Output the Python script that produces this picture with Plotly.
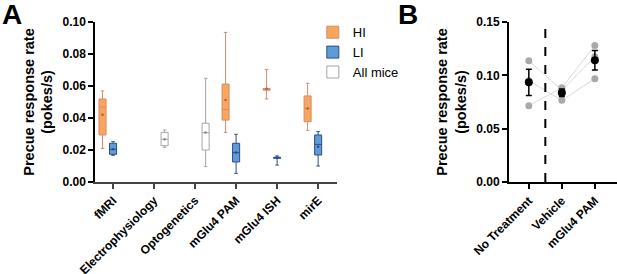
import plotly.graph_objects as go

FONT = "Liberation Sans"

# ---------------- Panel A data (box statistics) ----------------
categories_a = ["fMRI", "Electrophysiology", "Optogenetics", "mGlu4 PAM", "mGlu4 ISH", "mirE"]

hi_x = ["fMRI", "mGlu4 PAM", "mGlu4 ISH", "mirE"]
hi_low = [0.0210, 0.0310, 0.0519, 0.0323]
hi_q1 = [0.0294, 0.0387, 0.0574, 0.0377]
hi_med = [0.0469, 0.0454, 0.0578, 0.0460]
hi_q3 = [0.0519, 0.0612, 0.0584, 0.0538]
hi_high = [0.0569, 0.0935, 0.0704, 0.0617]
hi_mean = [0.0420, 0.0513, 0.0583, 0.0460]

li_x = ["fMRI", "mGlu4 PAM", "mGlu4 ISH", "mirE"]
li_low = [0.0167, 0.0054, 0.0106, 0.0100]
li_q1 = [0.0173, 0.0125, 0.0148, 0.0169]
li_med = [0.0204, 0.0183, 0.0152, 0.0235]
li_q3 = [0.0242, 0.0242, 0.0155, 0.0294]
li_high = [0.0252, 0.0298, 0.0163, 0.0315]
li_mean = [0.0204, 0.0185, 0.0152, 0.0220]

all_x = ["Electrophysiology", "Optogenetics"]
all_low = [0.0217, 0.0096]
all_q1 = [0.0227, 0.0200]
all_med = [0.0267, 0.0308]
all_q3 = [0.0310, 0.0367]
all_high = [0.0325, 0.0648]
all_mean = [0.0267, 0.0310]

yticks_a = [0.00, 0.02, 0.04, 0.06, 0.08, 0.10]

# ---------------- Panel B data ----------------
categories_b = ["No Treatment", "Vehicle", "mGlu4 PAM"]
mouse_1 = [0.1137, 0.0861, 0.1174]
mouse_2 = [0.0949, 0.0766, 0.0969]
mouse_3 = [0.0716, 0.0884, 0.1280]
mean_b = [0.0934, 0.0837, 0.1141]
sem_b = [0.0122, 0.0036, 0.0091]
yticks_b = [0.00, 0.05, 0.10, 0.15]

fig = go.Figure()

BOXGAP = 0.23

def add_box(name, xs, low, q1, med, q3, high, fill, line):
    fig.add_trace(go.Box(
        name=name, x=xs, lowerfence=low, q1=q1, median=med, q3=q3, upperfence=high,
        fillcolor=fill, line=dict(color=line, width=1), boxpoints=False,
        xaxis="x", yaxis="y", offsetgroup=name, alignmentgroup="a", whiskerwidth=0.5,
        legendgroup=name, showlegend=True,
    ))

add_box("HI", hi_x, hi_low, hi_q1, hi_med, hi_q3, hi_high, "#F8A65C", "#D98A6E")
add_box("LI", li_x, li_low, li_q1, li_med, li_q3, li_high, "#5E9CD6", "#2F4C8C")
add_box("All mice", all_x, all_low, all_q1, all_med, all_q3, all_high, "#FFFFFF", "#A6A6A6")

for name, xs, mn, col in [("HI", hi_x, hi_mean, "#B85A3C"), ("LI", li_x, li_mean, "#2F4C8C"),
                          ("All mice", all_x, all_mean, "#888888")]:
    fig.add_trace(go.Scatter(
        x=xs, y=mn, mode="markers", marker=dict(size=2.5, color=col),
        xaxis="x", yaxis="y", offsetgroup=name, alignmentgroup="a",
        legendgroup=name, showlegend=False, hoverinfo="skip",
    ))

# Panel B
for m in [mouse_1, mouse_2, mouse_3]:
    fig.add_trace(go.Scatter(
        x=categories_b, y=m, mode="lines+markers",
        line=dict(color="#DADADA", width=1),
        marker=dict(size=7, color="#A9A9A9"),
        xaxis="x2", yaxis="y2", showlegend=False,
        offsetgroup="b", alignmentgroup="b",
    ))
fig.add_trace(go.Scatter(
    x=categories_b, y=mean_b, mode="markers",
    marker=dict(size=8, color="#000000"),
    error_y=dict(type="data", array=sem_b, color="#000000", thickness=1.5, width=3),
    xaxis="x2", yaxis="y2", showlegend=False,
    offsetgroup="b", alignmentgroup="b",
))

fig.add_shape(type="line", xref="x2", yref="y2 domain", x0=0.5, x1=0.5, y0=0, y1=1,
              line=dict(color="#000000", width=2, dash="dash"))

tickfont = dict(family=FONT, size=12, color="#000000", weight="bold")
xtickfont = dict(family=FONT, size=12, color="#000000", weight="bold")
titlefont = dict(family=FONT, size=14.5, color="#000000", weight="bold")

fig.update_layout(
    width=617, height=274,
    margin=dict(l=0, r=0, t=0, b=0),
    paper_bgcolor="white", plot_bgcolor="white",
    boxmode="group", boxgap=BOXGAP, boxgroupgap=0.33,
    scattermode="group", scattergap=BOXGAP,
    showlegend=True,
    legend=dict(x=0.507, y=0.937, xanchor="left", yanchor="top",
                font=dict(family=FONT, size=13, color="#000000"),
                bgcolor="rgba(0,0,0,0)", tracegroupgap=0, itemwidth=30),
    xaxis=dict(domain=[95/617, 337/617], type="category",
               categoryorder="array", categoryarray=categories_a,
               range=[-0.44, 5.46], showline=True, linecolor="#444444", linewidth=1.5,
               ticks="outside", ticklen=5, tickwidth=1.5, tickcolor="#444444",
               tickangle=-45, tickfont=xtickfont, showgrid=False, zeroline=False,
               anchor="y", automargin=False),
    yaxis=dict(domain=[1 - 182/274, 1 - 22/274], range=[0, 0.10],
               tickvals=yticks_a, tickformat=".2f",
               showline=True, linecolor="#000000", linewidth=1.5,
               ticks="outside", ticklen=5, tickwidth=1.5, tickcolor="#000000",
               tickfont=tickfont, showgrid=False, zeroline=False,
               title=dict(text="Precue response rate<br>(pokes/s)", font=titlefont, standoff=6),
               anchor="x", automargin=False),
    xaxis2=dict(domain=[509/617, 1.0], type="category",
                categoryorder="array", categoryarray=categories_b,
                range=[-0.6, 2.67], showline=True, linecolor="#000000", linewidth=2,
                ticks="outside", ticklen=5, tickwidth=1.5, tickcolor="#000000",
                tickangle=-45, tickfont=xtickfont, showgrid=False, zeroline=False,
                anchor="y2", automargin=False),
    yaxis2=dict(domain=[1 - 182/274, 1 - 22/274], range=[0, 0.15],
                tickvals=yticks_b, tickformat=".2f",
                showline=True, linecolor="#000000", linewidth=2,
                ticks="outside", ticklen=5, tickwidth=1.5, tickcolor="#000000",
                tickfont=tickfont, showgrid=False, zeroline=False,
                title=dict(text="Precue response rate<br>(pokes/s)", font=titlefont, standoff=6),
                anchor="x2", automargin=False),
    annotations=[
        dict(text="<b>A</b>", x=0, y=1.012, xref="paper", yref="paper", xanchor="left", yanchor="top",
             showarrow=False, font=dict(family=FONT, size=28, color="#000000")),
        dict(text="<b>B</b>", x=396/617, y=1.012, xref="paper", yref="paper", xanchor="left", yanchor="top",
             showarrow=False, font=dict(family=FONT, size=28, color="#000000")),
    ],
)

fig.write_html("out.html", config={"displayModeBar": False},
               post_script="document.body.style.margin='0';")
